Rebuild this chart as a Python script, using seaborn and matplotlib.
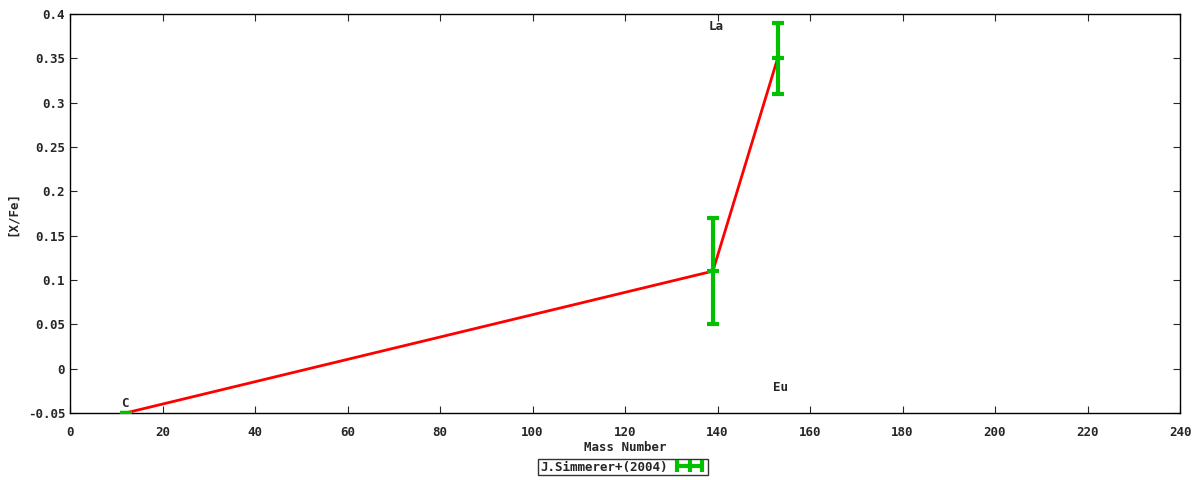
import numpy as np
import pandas as pd
import seaborn as sns
from matplotlib import pyplot as plt
from matplotlib.lines import Line2D

# data
elements = ["C", "La", "Eu"]
mass = [12, 139, 153]
xfe = [-0.05, 0.11, 0.35]
err = [0.0, 0.06, 0.04]
label_x = [11.8, 139.8, 153.6]
label_y = [-0.039, 0.386, -0.021]
series_name = "J.Simmerer+(2004)"

xticks = list(range(0, 241, 20))
yticks = [-0.05, 0, 0.05, 0.1, 0.15, 0.2, 0.25, 0.3, 0.35, 0.4]
ytick_labels = ["-0.05", "0", "0.05", "0.1", "0.15", "0.2", "0.25", "0.3", "0.35", "0.4"]

sns.set_style("ticks")
plt.rcParams['font.family'] = ['DejaVu Sans Mono', 'DejaVu Sans']
plt.rcParams['font.weight'] = 'bold'

df = pd.DataFrame({"mass": mass, "xfe": xfe, "err": err})

green = "#00c000"
fig = plt.figure(figsize=(12, 4.8), dpi=100)
ax = fig.add_axes([70 / 1200, 1 - 413 / 480, 1110 / 1200, 399 / 480])

sns.lineplot(data=df, x="mass", y="xfe", color="red", lw=2, ax=ax, zorder=2)
ax.errorbar(df["mass"], df["xfe"], yerr=df["err"], fmt="none", ecolor=green,
            elinewidth=3, capsize=4, capthick=3, zorder=3)
# gnuplot marks the centre of each errorbar with a cap too
ax.plot(df["mass"], df["xfe"], ls="none", marker="_", ms=8, mew=3, color=green, zorder=3)

for name, lx, ly in zip(elements, label_x, label_y):
    ax.text(lx, ly, name, ha="center", va="center", fontsize=9, fontweight="bold")

ax.set_xlim(0, 240)
ax.set_ylim(-0.05, 0.4)
ax.set_xticks(xticks)
ax.set_yticks(yticks)
ax.set_yticklabels(ytick_labels)
ax.tick_params(direction="in", top=True, right=True, length=5, labelsize=9)
ax.tick_params(axis="x", pad=9)
for s in ax.spines.values():
    s.set_visible(True)
    s.set_color("black")
    s.set_linewidth(1)
ax.set_xlabel("Mass Number", fontsize=9, fontweight="bold")
ax.set_ylabel("[X/Fe]", fontsize=9, fontweight="bold")
ax.xaxis.labelpad = 2
ax.yaxis.label.set_va("center")
ax.yaxis.set_label_coords(-58 / 1110, 0.5)

handle = Line2D([], [], color=green, lw=3, marker="|", ms=9, mew=3)
leg = fig.legend([handle], [series_name], loc="center", bbox_to_anchor=(623 / 1200, 1 - 467 / 480),
                 numpoints=3, handlelength=2.6, markerfirst=False, frameon=True, fancybox=False,
                 borderpad=0.15, borderaxespad=0, handletextpad=0.5, prop={"size": 9, "weight": "bold"})
leg.get_frame().set_edgecolor("black")
leg.get_frame().set_linewidth(1)

plt.savefig("out.png", dpi=100)
